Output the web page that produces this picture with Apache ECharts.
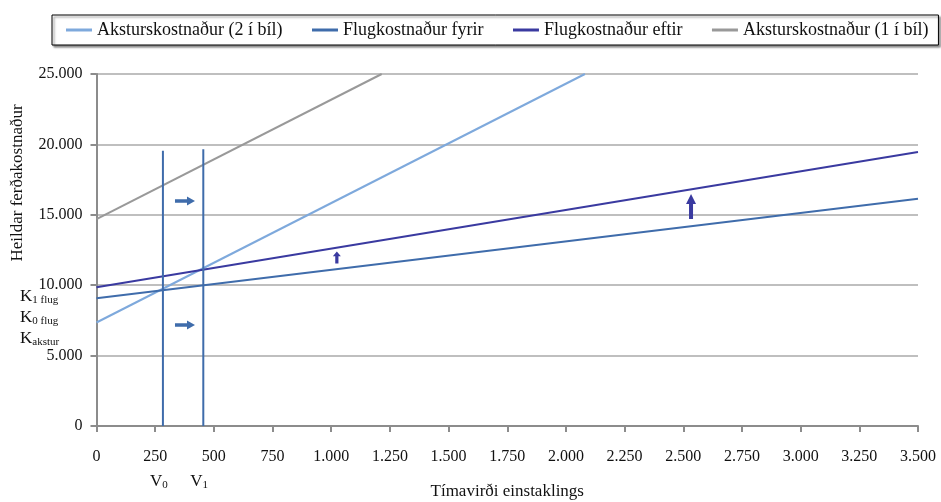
<!DOCTYPE html>
<html>
<head>
<meta charset="utf-8">
<script src="https://cdn.jsdelivr.net/npm/echarts@6/dist/echarts.min.js"></script>
<style>
  html, body { margin: 0; padding: 0; background: #fff; }
  #chart { width: 941px; height: 502px; }
</style>
</head>
<body>
<div id="chart"></div>
<script>
// Series names (legend order)
const seriesNames = [
  'Aksturskostnaður (2 í bíl)',
  'Flugkostnaður fyrir',
  'Flugkostnaður eftir',
  'Aksturskostnaður (1 í bíl)'
];

// Cost lines as [time value, total cost] end points
const drive2 = [[0, 7350], [2081, 25000]];
const flightBefore = [[0, 9070], [3500, 16140]];
const flightAfter = [[0, 9850], [3500, 19460]];
const drive1 = [[0, 14700], [1215, 25000]];

// Threshold time values V0 and V1
const v0Line = [[283, 0], [283, 19550]];
const v1Line = [[455, 0], [455, 19650]];
const vLabels = ['V', 'V'];
const vSubs = ['0', '1'];

// Shift arrows: [x, y]
const rightArrows = [[377, 15980], [377, 7170]];
const upArrows = [[1024, 11970], [2533, 15590]];
const upArrowSizes = [[8, 12], [10, 25]];

// Axis settings
const xMax = 3500, xStep = 250;
const yMax = 25000, yStep = 5000;

const colors = ['#7ea9dc', '#3f6cab', '#3a3aa0', '#999999'];
const FONT = '"Liberation Serif", "DejaVu Serif", serif';

const fmt = v => {
  const s = Math.round(v).toString();
  return s.replace(/\B(?=(\d{3})+(?!\d))/g, '.');
};

const arrowRight = 'path://M0,3 L12,3 L12,0 L20,5 L12,10 L12,7 L0,7 Z';
const arrowUp = 'path://M3,20 L3,8 L0,8 L5,0 L10,8 L7,8 L7,20 Z';

const chart = echarts.init(document.getElementById('chart'), null, { renderer: 'canvas' });

const lineSeries = (name, data, color) => ({
  name, type: 'line', data, showSymbol: false, symbol: 'none',
  lineStyle: { color, width: 2 }, itemStyle: { color },
  clip: true, animation: false, z: 3
});

const option = {
  animation: false,
  textStyle: { fontFamily: FONT },
  grid: {
    left: 96.5, right: 23, top: 74, bottom: 76,
    containLabel: false, outerBoundsMode: 'none'
  },
  legend: {
    data: seriesNames,
    left: 52, top: 15, width: 888, height: 32,
    padding: [6, 10, 6, 14],
    itemGap: 29.5, itemWidth: 26, itemHeight: 3, icon: 'rect',
    borderColor: '#000', borderWidth: 1, borderRadius: 0,
    backgroundColor: '#fff',
    shadowColor: 'rgba(0,0,0,0.45)', shadowBlur: 2, shadowOffsetX: 2, shadowOffsetY: 2,
    textStyle: { fontFamily: FONT, fontSize: 18, color: '#111' },
    selectedMode: false
  },
  xAxis: {
    type: 'value', min: 0, max: xMax, interval: xStep,
    name: 'Tímavirði einstaklings', nameLocation: 'middle', nameGap: 57,
    nameTextStyle: { fontFamily: FONT, fontSize: 17, color: '#111' },
    axisLine: { lineStyle: { color: '#8c8c8c', width: 2 } },
    axisTick: { show: true, length: 6, lineStyle: { color: '#8c8c8c', width: 2 } },
    axisLabel: { formatter: fmt, fontFamily: FONT, fontSize: 16, color: '#111', margin: 23 },
    splitLine: { show: false }
  },
  yAxis: {
    type: 'value', min: 0, max: yMax, interval: yStep,
    axisLine: { show: true, lineStyle: { color: '#8c8c8c', width: 2 } },
    axisTick: { show: true, length: 6, lineStyle: { color: '#8c8c8c', width: 2 } },
    axisLabel: { formatter: fmt, fontFamily: FONT, fontSize: 16, color: '#111', margin: 14 },
    splitLine: { show: true, lineStyle: { color: '#aaaaaa', width: 1.5 } }
  },
  series: [
    lineSeries(seriesNames[0], drive2, colors[0]),
    lineSeries(seriesNames[1], flightBefore, colors[1]),
    lineSeries(seriesNames[2], flightAfter, colors[2]),
    lineSeries(seriesNames[3], drive1, colors[3]),
    Object.assign(lineSeries('V0', v0Line, colors[1]), { z: 4 }),
    Object.assign(lineSeries('V1', v1Line, colors[1]), { z: 4 }),
    {
      name: 'shiftRight', type: 'scatter', data: rightArrows,
      symbol: arrowRight, symbolSize: [20, 9],
      itemStyle: { color: colors[1], opacity: 1 }, z: 5, silent: true
    },
    {
      name: 'shiftUp', type: 'scatter',
      data: upArrows.map((p, i) => ({ value: p, symbolSize: upArrowSizes[i] })),
      symbol: arrowUp,
      itemStyle: { color: colors[2], opacity: 1 }, z: 5, silent: true
    }
  ]
};

chart.setOption(option);

// Text annotations placed from the axis scales
const graphics = [];
[v0Line, v1Line].forEach((ln, i) => {
  const px = chart.convertToPixel({ gridIndex: 0 }, [ln[0][0], 0]);
  graphics.push({
    type: 'text', left: px[0] - 13, top: 473,
    style: {
      text: '{b|' + vLabels[i] + '}{s|' + vSubs[i] + '}',
      rich: {
        b: { fontFamily: FONT, fontSize: 17, fill: '#111' },
        s: { fontFamily: FONT, fontSize: 11, fill: '#111', verticalAlign: 'bottom', padding: [8, 0, 0, 0] }
      }
    }
  });
});

const kLabels = [['K', '1 flug'], ['K', '0 flug'], ['K', 'akstur']];
kLabels.forEach((k, i) => {
  graphics.push({
    type: 'text', left: 20, top: 288 + i * 21,
    style: {
      text: '{b|' + k[0] + '}{s|' + k[1] + '}',
      rich: {
        b: { fontFamily: FONT, fontSize: 17, fill: '#111' },
        s: { fontFamily: FONT, fontSize: 11, fill: '#111', verticalAlign: 'bottom', padding: [8, 0, 0, 0] }
      }
    }
  });
});

graphics.push({
  type: 'text', x: 18, y: 183, rotation: Math.PI / 2,
  style: {
    text: 'Heildar ferðakostnaður', fontFamily: FONT, fontSize: 17, fill: '#111',
    align: 'center', verticalAlign: 'middle'
  }
});

chart.setOption({ graphic: graphics });
</script>
</body>
</html>
